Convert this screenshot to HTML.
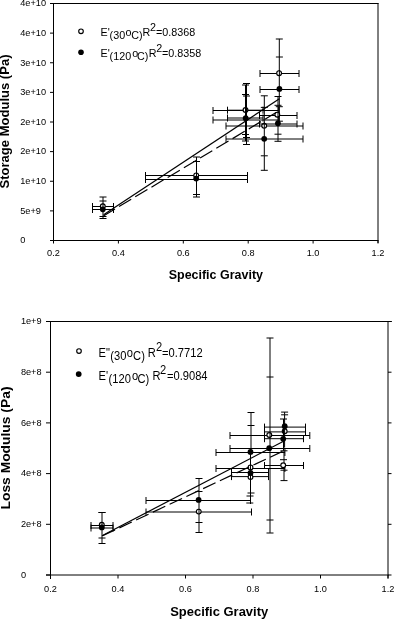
<!DOCTYPE html>
<html><head><meta charset="utf-8"><style>
html,body{margin:0;padding:0;background:#fff;width:394px;height:620px;overflow:hidden}
svg{display:block;filter:grayscale(1)}
text{font-family:"Liberation Sans",sans-serif;fill:#000}
line{stroke:#000}
</style></head><body>
<svg width="394" height="620" viewBox="0 0 394 620">
<line x1="53" y1="3.5" x2="378.5" y2="3.5"/>
<line x1="53.5" y1="3" x2="53.5" y2="241"/>
<line x1="378" y1="3" x2="378" y2="243"/>
<line x1="53" y1="240.5" x2="378.5" y2="240.5"/>
<line x1="50" y1="240.5" x2="53.5" y2="240.5"/>
<line x1="50" y1="210.88" x2="53.5" y2="210.88"/>
<line x1="50" y1="181.25" x2="53.5" y2="181.25"/>
<line x1="50" y1="151.62" x2="53.5" y2="151.62"/>
<line x1="50" y1="122" x2="53.5" y2="122"/>
<line x1="50" y1="92.38" x2="53.5" y2="92.38"/>
<line x1="50" y1="62.75" x2="53.5" y2="62.75"/>
<line x1="50" y1="33.12" x2="53.5" y2="33.12"/>
<line x1="50" y1="3.5" x2="53.5" y2="3.5"/>
<line x1="53.5" y1="240.5" x2="53.5" y2="243.5"/>
<line x1="118.4" y1="240.5" x2="118.4" y2="243.5"/>
<line x1="183.3" y1="240.5" x2="183.3" y2="243.5"/>
<line x1="248.2" y1="240.5" x2="248.2" y2="243.5"/>
<line x1="313.1" y1="240.5" x2="313.1" y2="243.5"/>
<line x1="378" y1="240.5" x2="378" y2="243.5"/>
<text x="20.2" y="243.3" font-size="9.2">0</text>
<text x="20.2" y="213.675" font-size="9.2">5e+9</text>
<text x="20.2" y="184.05" font-size="9.2">1e+10</text>
<text x="20.2" y="154.425" font-size="9.2">2e+10</text>
<text x="20.2" y="124.8" font-size="9.2">2e+10</text>
<text x="20.2" y="95.175" font-size="9.2">3e+10</text>
<text x="20.2" y="65.55" font-size="9.2">3e+10</text>
<text x="20.2" y="35.925" font-size="9.2">4e+10</text>
<text x="20.2" y="6.3" font-size="9.2">4e+10</text>
<text x="53.5" y="256.4" font-size="9.2" text-anchor="middle">0.2</text>
<text x="118.4" y="256.4" font-size="9.2" text-anchor="middle">0.4</text>
<text x="183.3" y="256.4" font-size="9.2" text-anchor="middle">0.6</text>
<text x="248.20000000000002" y="256.4" font-size="9.2" text-anchor="middle">0.8</text>
<text x="313.1" y="256.4" font-size="9.2" text-anchor="middle">1.0</text>
<text x="378.0" y="256.4" font-size="9.2" text-anchor="middle">1.2</text>
<text x="168.7" y="278.6" font-size="12.4" font-weight="bold" textLength="94.3" lengthAdjust="spacingAndGlyphs">Specific Gravity</text>
<text transform="translate(9.2,188.5) rotate(-90)" x="0" y="0" font-size="12.6" font-weight="bold" textLength="134" lengthAdjust="spacingAndGlyphs">Storage Modulus (Pa)</text>
<circle cx="81" cy="31.3" r="2.3" fill="#fff" stroke="#000" stroke-width="1.15"/>
<circle cx="81" cy="52.3" r="2.8" fill="#000" stroke="none"/>
<g transform="translate(0,36.2) scale(1,1.0) translate(0,-36.2)"><text font-size="10.75"><tspan x="100.6" y="36.2">E'</tspan><tspan x="109.6" y="38.6">(30</tspan><tspan x="125.55" y="36.2">o</tspan><tspan x="131.25" y="38.6">C)</tspan><tspan x="142.5" y="36.2">R</tspan><tspan x="150.06" y="30.9">2</tspan><tspan x="156.07" y="36.2">=0.8368</tspan></text></g>
<g transform="translate(0,57.3) scale(1,1.0) translate(0,-57.3)"><text font-size="10.75"><tspan x="100.5" y="57.3">E'</tspan><tspan x="109.6" y="59.8">(120</tspan><tspan x="132.15" y="57.3">o</tspan><tspan x="136.95" y="59.8">C)</tspan><tspan x="148.7" y="57.3">R</tspan><tspan x="156.26" y="52.3">2</tspan><tspan x="161.97" y="57.3">=0.8358</tspan></text></g>
<line x1="92.5" y1="206.5" x2="113.5" y2="206.5"/>
<line x1="92.5" y1="203" x2="92.5" y2="210"/>
<line x1="113.5" y1="203" x2="113.5" y2="210"/>
<line x1="103" y1="197" x2="103" y2="216.5"/>
<line x1="99.5" y1="197" x2="106.5" y2="197"/>
<line x1="99.5" y1="216.5" x2="106.5" y2="216.5"/>
<line x1="145.5" y1="175.5" x2="247.5" y2="175.5"/>
<line x1="145.5" y1="172" x2="145.5" y2="179"/>
<line x1="247.5" y1="172" x2="247.5" y2="179"/>
<line x1="196.5" y1="157" x2="196.5" y2="194.5"/>
<line x1="193" y1="157" x2="200" y2="157"/>
<line x1="193" y1="194.5" x2="200" y2="194.5"/>
<line x1="213" y1="110.5" x2="278.4" y2="110.5"/>
<line x1="213" y1="107" x2="213" y2="114"/>
<line x1="278.4" y1="107" x2="278.4" y2="114"/>
<line x1="227.5" y1="110.2" x2="263" y2="110.2"/>
<line x1="227.5" y1="106.7" x2="227.5" y2="113.7"/>
<line x1="263" y1="106.7" x2="263" y2="113.7"/>
<line x1="246.5" y1="83.5" x2="246.5" y2="137.5"/>
<line x1="243" y1="83.5" x2="250" y2="83.5"/>
<line x1="243" y1="137.5" x2="250" y2="137.5"/>
<line x1="245.5" y1="85" x2="245.5" y2="134.5"/>
<line x1="242" y1="85" x2="249" y2="85"/>
<line x1="242" y1="134.5" x2="249" y2="134.5"/>
<line x1="226" y1="126" x2="303" y2="126"/>
<line x1="226" y1="122.5" x2="226" y2="129.5"/>
<line x1="303" y1="122.5" x2="303" y2="129.5"/>
<line x1="264.3" y1="95.8" x2="264.3" y2="155.8"/>
<line x1="260.8" y1="95.8" x2="267.8" y2="95.8"/>
<line x1="260.8" y1="155.8" x2="267.8" y2="155.8"/>
<line x1="260" y1="73.5" x2="299" y2="73.5"/>
<line x1="260" y1="70" x2="260" y2="77"/>
<line x1="299" y1="70" x2="299" y2="77"/>
<line x1="279.3" y1="38.9" x2="279.3" y2="106.7"/>
<line x1="275.8" y1="39" x2="282.8" y2="39"/>
<line x1="275.8" y1="106.7" x2="282.8" y2="106.7"/>
<line x1="259.5" y1="115.5" x2="297" y2="115.5"/>
<line x1="259.5" y1="112" x2="259.5" y2="119"/>
<line x1="297" y1="112" x2="297" y2="119"/>
<line x1="278" y1="96.5" x2="278" y2="134.2"/>
<line x1="274.5" y1="96.5" x2="281.5" y2="96.5"/>
<line x1="274.5" y1="134.2" x2="281.5" y2="134.2"/>
<circle cx="102.8" cy="206.2" r="2.4" fill="#fff" stroke="#000" stroke-width="1.15"/>
<circle cx="196.2" cy="175.4" r="2.4" fill="#fff" stroke="#000" stroke-width="1.15"/>
<circle cx="245.5" cy="110" r="2.4" fill="#fff" stroke="#000" stroke-width="1.15"/>
<circle cx="264.2" cy="125.8" r="2.4" fill="#fff" stroke="#000" stroke-width="1.15"/>
<circle cx="279.1" cy="73.2" r="2.4" fill="#fff" stroke="#000" stroke-width="1.15"/>
<circle cx="277.3" cy="114.7" r="2.4" fill="#fff" stroke="#000" stroke-width="1.15"/>
<line x1="92.5" y1="209.5" x2="113.5" y2="209.5"/>
<line x1="92.5" y1="206" x2="92.5" y2="213"/>
<line x1="113.5" y1="206" x2="113.5" y2="213"/>
<line x1="103" y1="216.5" x2="103" y2="218.5"/>
<line x1="103" y1="203.5" x2="103" y2="209"/>
<line x1="99.5" y1="201" x2="106.5" y2="201"/>
<line x1="99.5" y1="218.5" x2="106.5" y2="218.5"/>
<line x1="145.5" y1="179.5" x2="247.5" y2="179.5"/>
<line x1="145.5" y1="176" x2="145.5" y2="183"/>
<line x1="247.5" y1="176" x2="247.5" y2="183"/>
<line x1="196.5" y1="194.5" x2="196.5" y2="197"/>
<line x1="196.5" y1="172.5" x2="196.5" y2="178"/>
<line x1="193" y1="161.5" x2="200" y2="161.5"/>
<line x1="193" y1="197" x2="200" y2="197"/>
<line x1="213" y1="120" x2="278.4" y2="120"/>
<line x1="213" y1="116.5" x2="213" y2="123.5"/>
<line x1="278.4" y1="116.5" x2="278.4" y2="123.5"/>
<line x1="227.5" y1="118" x2="263" y2="118"/>
<line x1="227.5" y1="114.5" x2="227.5" y2="121.5"/>
<line x1="263" y1="114.5" x2="263" y2="121.5"/>
<line x1="246.5" y1="96" x2="246.5" y2="144.5"/>
<line x1="243" y1="96" x2="250" y2="96"/>
<line x1="243" y1="144.5" x2="250" y2="144.5"/>
<line x1="245.5" y1="94.5" x2="245.5" y2="141"/>
<line x1="242" y1="94.5" x2="249" y2="94.5"/>
<line x1="242" y1="141" x2="249" y2="141"/>
<line x1="226" y1="139" x2="303" y2="139"/>
<line x1="226" y1="135.5" x2="226" y2="142.5"/>
<line x1="303" y1="135.5" x2="303" y2="142.5"/>
<line x1="264.3" y1="155.8" x2="264.3" y2="170.3"/>
<line x1="264.3" y1="122.5" x2="264.3" y2="128"/>
<line x1="260.8" y1="107.4" x2="267.8" y2="107.4"/>
<line x1="260.8" y1="170.3" x2="267.8" y2="170.3"/>
<line x1="260" y1="89.5" x2="299" y2="89.5"/>
<line x1="260" y1="86" x2="260" y2="93"/>
<line x1="299" y1="86" x2="299" y2="93"/>
<line x1="279.4" y1="106.7" x2="279.4" y2="121.2"/>
<line x1="279.4" y1="70" x2="279.4" y2="75.8"/>
<line x1="275.9" y1="57" x2="282.9" y2="57"/>
<line x1="275.9" y1="121.2" x2="282.9" y2="121.2"/>
<line x1="259.5" y1="124" x2="297" y2="124"/>
<line x1="259.5" y1="120.5" x2="259.5" y2="127.5"/>
<line x1="297" y1="120.5" x2="297" y2="127.5"/>
<line x1="278" y1="134.2" x2="278" y2="141.3"/>
<line x1="278" y1="112" x2="278" y2="117.5"/>
<line x1="274.5" y1="105.3" x2="281.5" y2="105.3"/>
<line x1="274.5" y1="141.3" x2="281.5" y2="141.3"/>
<circle cx="102.8" cy="209.3" r="2.9" fill="#000" stroke="none"/>
<circle cx="196.2" cy="178.6" r="2.9" fill="#000" stroke="none"/>
<circle cx="245.7" cy="118.2" r="2.9" fill="#000" stroke="none"/>
<circle cx="264.2" cy="138.8" r="2.9" fill="#000" stroke="none"/>
<circle cx="279.4" cy="88.9" r="2.9" fill="#000" stroke="none"/>
<circle cx="277.9" cy="123.3" r="2.9" fill="#000" stroke="none"/>
<line x1="103.6" y1="214.8" x2="279.4" y2="98.8" stroke-width="1.2"/>
<line x1="103.4" y1="215.9" x2="276.5" y2="112.3" stroke-width="1.2" stroke-dasharray="14.2 4.7" stroke-dashoffset="0.7"/>
<line x1="46" y1="321.5" x2="391.8" y2="321.5"/>
<line x1="50.5" y1="321" x2="50.5" y2="579"/>
<line x1="388" y1="321" x2="388" y2="578.5"/>
<line x1="46" y1="575" x2="388.5" y2="575"/>
<line x1="46" y1="575" x2="50.5" y2="575"/>
<line x1="388" y1="575" x2="391.5" y2="575"/>
<line x1="46" y1="524.3" x2="50.5" y2="524.3"/>
<line x1="388" y1="524.3" x2="391.5" y2="524.3"/>
<line x1="46" y1="473.6" x2="50.5" y2="473.6"/>
<line x1="388" y1="473.6" x2="391.5" y2="473.6"/>
<line x1="46" y1="422.9" x2="50.5" y2="422.9"/>
<line x1="388" y1="422.9" x2="391.5" y2="422.9"/>
<line x1="46" y1="372.2" x2="50.5" y2="372.2"/>
<line x1="388" y1="372.2" x2="391.5" y2="372.2"/>
<line x1="46" y1="321.5" x2="50.5" y2="321.5"/>
<line x1="388" y1="321.5" x2="391.5" y2="321.5"/>
<line x1="50.5" y1="575" x2="50.5" y2="578.5"/>
<line x1="118" y1="575" x2="118" y2="578.5"/>
<line x1="185.5" y1="575" x2="185.5" y2="578.5"/>
<line x1="253" y1="575" x2="253" y2="578.5"/>
<line x1="320.5" y1="575" x2="320.5" y2="578.5"/>
<line x1="388" y1="575" x2="388" y2="578.5"/>
<text x="20.9" y="577.8" font-size="9.2">0</text>
<text x="20.9" y="527.0999999999999" font-size="9.2">2e+8</text>
<text x="20.9" y="476.40000000000003" font-size="9.2">4e+8</text>
<text x="20.9" y="425.7" font-size="9.2">6e+8</text>
<text x="20.9" y="375.0" font-size="9.2">8e+8</text>
<text x="20.9" y="324.3" font-size="9.2">1e+9</text>
<text x="50.5" y="592.0" font-size="9.2" text-anchor="middle">0.2</text>
<text x="118.0" y="592.0" font-size="9.2" text-anchor="middle">0.4</text>
<text x="185.5" y="592.0" font-size="9.2" text-anchor="middle">0.6</text>
<text x="253.0" y="592.0" font-size="9.2" text-anchor="middle">0.8</text>
<text x="320.5" y="592.0" font-size="9.2" text-anchor="middle">1.0</text>
<text x="388.0" y="592.0" font-size="9.2" text-anchor="middle">1.2</text>
<text x="170.2" y="616.3" font-size="12.6" font-weight="bold" textLength="98" lengthAdjust="spacingAndGlyphs">Specific Gravity</text>
<text transform="translate(10,509.5) rotate(-90)" x="0" y="0" font-size="12.6" font-weight="bold" textLength="123" lengthAdjust="spacingAndGlyphs">Loss Modulus (Pa)</text>
<circle cx="79" cy="351" r="2.3" fill="#fff" stroke="#000" stroke-width="1.15"/>
<circle cx="78.7" cy="374.1" r="2.9" fill="#000" stroke="none"/>
<g transform="translate(0,357.0) scale(1,1.08) translate(0,-357.0)"><text font-size="11.15"><tspan x="98.5" y="357.0">E"</tspan><tspan x="110.3" y="359.8">(30</tspan><tspan x="126.8" y="357.0">o</tspan><tspan x="133.1" y="359.8">C)</tspan><tspan x="147.7" y="357.0">R</tspan><tspan x="155.9" y="351.5">2</tspan><tspan x="162.05" y="357.0">=0.7712</tspan></text></g>
<g transform="translate(0,380.0) scale(1,1.08) translate(0,-380.0)"><text font-size="11.15"><tspan x="98.5" y="380.0">E'</tspan><tspan x="108.6" y="382.9">(120</tspan><tspan x="131.9" y="380.0">o</tspan><tspan x="137.5" y="382.9">C)</tspan><tspan x="152.5" y="380.0">R</tspan><tspan x="160.1" y="374.1">2</tspan><tspan x="166.95" y="380.0">=0.9084</tspan></text></g>
<line x1="91" y1="525.5" x2="113" y2="525.5"/>
<line x1="91" y1="522" x2="91" y2="529"/>
<line x1="113" y1="522" x2="113" y2="529"/>
<line x1="102" y1="512.5" x2="102" y2="538"/>
<line x1="98.5" y1="512.5" x2="105.5" y2="512.5"/>
<line x1="98.5" y1="538" x2="105.5" y2="538"/>
<line x1="146" y1="512" x2="251.5" y2="512"/>
<line x1="146" y1="508.5" x2="146" y2="515.5"/>
<line x1="251.5" y1="508.5" x2="251.5" y2="515.5"/>
<line x1="199" y1="491.2" x2="199" y2="532.4"/>
<line x1="195.5" y1="491.5" x2="202.5" y2="491.5"/>
<line x1="195.5" y1="532.5" x2="202.5" y2="532.5"/>
<line x1="216" y1="468.5" x2="284.9" y2="468.5"/>
<line x1="216" y1="465" x2="216" y2="472"/>
<line x1="284.9" y1="465" x2="284.9" y2="472"/>
<line x1="231.5" y1="476.6" x2="268.5" y2="476.6"/>
<line x1="231.5" y1="473.1" x2="231.5" y2="480.1"/>
<line x1="268.5" y1="473.1" x2="268.5" y2="480.1"/>
<line x1="246.5" y1="496" x2="253.5" y2="496"/>
<line x1="246.3" y1="503" x2="253.3" y2="503"/>
<line x1="230" y1="435.5" x2="309.8" y2="435.5"/>
<line x1="230" y1="432" x2="230" y2="439"/>
<line x1="309.8" y1="432" x2="309.8" y2="439"/>
<line x1="270" y1="337.9" x2="270" y2="532.9"/>
<line x1="266.5" y1="338" x2="273.5" y2="338"/>
<line x1="266.5" y1="533" x2="273.5" y2="533"/>
<line x1="264.5" y1="431.9" x2="305.5" y2="431.9"/>
<line x1="264.5" y1="428.4" x2="264.5" y2="435.4"/>
<line x1="305.5" y1="428.4" x2="305.5" y2="435.4"/>
<line x1="284.6" y1="414.8" x2="284.6" y2="447.6"/>
<line x1="281.1" y1="414.8" x2="288.1" y2="414.8"/>
<line x1="264.5" y1="465.5" x2="303.5" y2="465.5"/>
<line x1="264.5" y1="462" x2="264.5" y2="469"/>
<line x1="303.5" y1="462" x2="303.5" y2="469"/>
<line x1="284" y1="450.8" x2="284" y2="480.6"/>
<line x1="280.5" y1="450.8" x2="287.5" y2="450.8"/>
<line x1="280.5" y1="470.2" x2="287.5" y2="470.2"/>
<line x1="280.5" y1="480.6" x2="287.5" y2="480.6"/>
<circle cx="101.8" cy="524.7" r="2.4" fill="#fff" stroke="#000" stroke-width="1.15"/>
<circle cx="198.75" cy="511.6" r="2.4" fill="#fff" stroke="#000" stroke-width="1.15"/>
<circle cx="250.5" cy="467.4" r="2.4" fill="#fff" stroke="#000" stroke-width="1.15"/>
<circle cx="250.5" cy="477.1" r="2.4" fill="#fff" stroke="#000" stroke-width="1.15"/>
<circle cx="269.3" cy="435" r="2.4" fill="#fff" stroke="#000" stroke-width="1.15"/>
<circle cx="284.7" cy="431.2" r="2.4" fill="#fff" stroke="#000" stroke-width="1.15"/>
<circle cx="283.2" cy="465.2" r="2.4" fill="#fff" stroke="#000" stroke-width="1.15"/>
<line x1="91" y1="528" x2="113" y2="528"/>
<line x1="91" y1="524.5" x2="91" y2="531.5"/>
<line x1="113" y1="524.5" x2="113" y2="531.5"/>
<line x1="102" y1="538" x2="102" y2="543.5"/>
<line x1="102" y1="522" x2="102" y2="527"/>
<line x1="98.5" y1="512.5" x2="105.5" y2="512.5"/>
<line x1="98.5" y1="543.5" x2="105.5" y2="543.5"/>
<line x1="146" y1="500.5" x2="250.5" y2="500.5"/>
<line x1="146" y1="497" x2="146" y2="504"/>
<line x1="250.5" y1="497" x2="250.5" y2="504"/>
<line x1="199" y1="478.5" x2="199" y2="491.2"/>
<line x1="199" y1="509" x2="199" y2="514.2"/>
<line x1="195.5" y1="478.5" x2="202.5" y2="478.5"/>
<line x1="195.5" y1="522.5" x2="202.5" y2="522.5"/>
<line x1="216" y1="452.5" x2="284.9" y2="452.5"/>
<line x1="216" y1="449" x2="216" y2="456"/>
<line x1="284.9" y1="449" x2="284.9" y2="456"/>
<line x1="231.5" y1="472.5" x2="268.5" y2="472.5"/>
<line x1="231.5" y1="469" x2="231.5" y2="476"/>
<line x1="268.5" y1="469" x2="268.5" y2="476"/>
<line x1="251" y1="412.5" x2="251" y2="452"/>
<line x1="247.5" y1="412.5" x2="254.5" y2="412.5"/>
<line x1="247.5" y1="425.5" x2="254.5" y2="425.5"/>
<line x1="247.5" y1="493" x2="254.5" y2="493"/>
<line x1="250.5" y1="452" x2="250.5" y2="503.5"/>
<line x1="230" y1="448.5" x2="309.8" y2="448.5"/>
<line x1="230" y1="445" x2="230" y2="452"/>
<line x1="309.8" y1="445" x2="309.8" y2="452"/>
<line x1="270" y1="432.5" x2="270" y2="437.5"/>
<line x1="266.5" y1="377" x2="273.5" y2="377"/>
<line x1="266.5" y1="520" x2="273.5" y2="520"/>
<line x1="264.5" y1="427.1" x2="305.5" y2="427.1"/>
<line x1="264.5" y1="423.6" x2="264.5" y2="430.6"/>
<line x1="305.5" y1="423.6" x2="305.5" y2="430.6"/>
<line x1="284.6" y1="412.1" x2="284.6" y2="414.8"/>
<line x1="284.6" y1="428.7" x2="284.6" y2="433.7"/>
<line x1="281.1" y1="412.1" x2="288.1" y2="412.1"/>
<line x1="264.5" y1="438.7" x2="303.5" y2="438.7"/>
<line x1="264.5" y1="435.2" x2="264.5" y2="442.2"/>
<line x1="303.5" y1="435.2" x2="303.5" y2="442.2"/>
<line x1="283.5" y1="419" x2="283.5" y2="450.8"/>
<line x1="280" y1="419" x2="287" y2="419"/>
<line x1="280" y1="459.7" x2="287" y2="459.7"/>
<circle cx="101.8" cy="527.4" r="2.9" fill="#000" stroke="none"/>
<circle cx="198.6" cy="499.9" r="2.9" fill="#000" stroke="none"/>
<circle cx="250.5" cy="451.9" r="2.9" fill="#000" stroke="none"/>
<circle cx="250.5" cy="472.9" r="2.9" fill="#000" stroke="none"/>
<circle cx="269.2" cy="448.2" r="2.9" fill="#000" stroke="none"/>
<circle cx="284.7" cy="426.2" r="2.9" fill="#000" stroke="none"/>
<circle cx="283.2" cy="438.8" r="2.9" fill="#000" stroke="none"/>
<line x1="102" y1="535.7" x2="284.5" y2="440.8" stroke-width="1.2"/>
<line x1="102" y1="536" x2="285" y2="450.2" stroke-width="1.2" stroke-dasharray="13.7 4.8" stroke-dashoffset="-0.7"/>
</svg>
</body></html>
